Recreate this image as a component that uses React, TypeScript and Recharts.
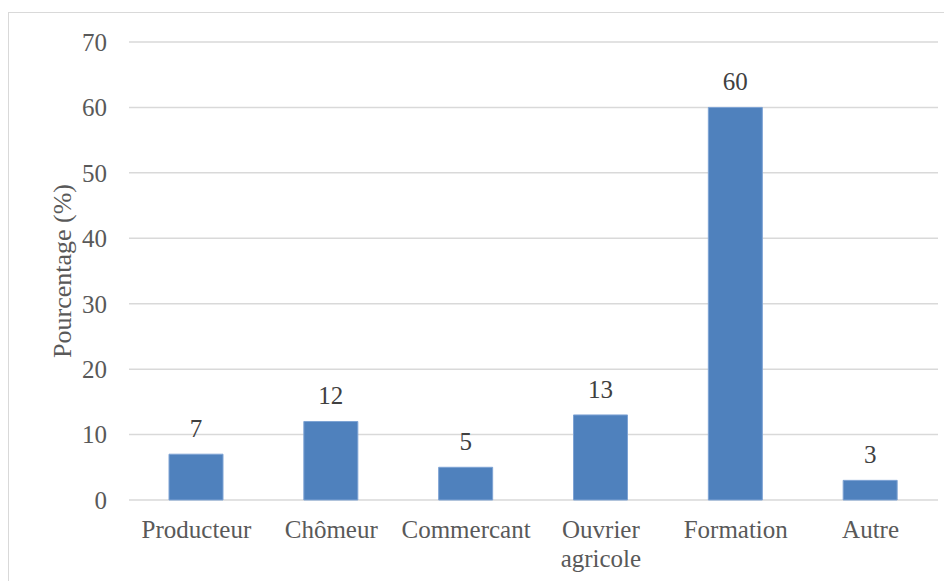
import { BarChart, Bar, XAxis, YAxis, CartesianGrid, LabelList } from "recharts";

const categories = ["Producteur", "Chômeur", "Commercant", "Ouvrier\nagricole", "Formation", "Autre"];
const percentages = [7, 12, 5, 13, 60, 3];
const yTicks = [0, 10, 20, 30, 40, 50, 60, 70];

const data = categories.map((name, i) => ({ name, value: percentages[i] }));

const FONT = "'Liberation Serif', 'Times New Roman', serif";

function CategoryTick(props: any) {
  const { x, y, payload } = props;
  const lines = String(payload.value).split("\n");
  return (
    <text x={x} y={y} textAnchor="middle" fill="#595959" fontFamily={FONT} fontSize={25}>
      {lines.map((line, i) => (
        <tspan key={i} x={x} dy={i === 0 ? 30 : 29}>
          {line}
        </tspan>
      ))}
    </text>
  );
}

export default function App() {
  return (
    <div>
      <style>{`body{overflow:hidden}`}</style>
      <div
        style={{
          marginTop: 4,
          width: 942,
          height: 600,
          border: "1.5px solid #d9d9d9",
          boxSizing: "border-box",
        }}
      >
        <BarChart
          width={939}
          height={570}
          data={data}
          barCategoryGap="30%"
          margin={{ top: 29, right: 10, left: 0, bottom: 0 }}
        >
          <CartesianGrid vertical={false} stroke="#d9d9d9" strokeWidth={1.5} />
          <XAxis
            dataKey="name"
            axisLine={false}
            tickLine={false}
            height={83}
            interval={0}
            tick={<CategoryTick />}
          />
          <YAxis
            domain={[0, 70]}
            ticks={yTicks}
            axisLine={false}
            tickLine={false}
            tickSize={0}
            tickMargin={22}
            width={120}
            tick={{ fill: "#595959", fontFamily: FONT, fontSize: 25 }}
            label={{
              value: "Pourcentage (%)",
              angle: -90,
              position: "center",
              dx: -7,
              fill: "#595959",
              fontFamily: FONT,
              fontSize: 26,
            }}
          />
          <Bar dataKey="value" fill="#4F81BD" stroke="#7ea3d4" strokeWidth={1} barSize={54} isAnimationActive={false}>
            <LabelList
              dataKey="value"
              position="top"
              offset={17}
              fill="#404040"
              fontFamily={FONT}
              fontSize={25}
            />
          </Bar>
        </BarChart>
      </div>
    </div>
  );
}
